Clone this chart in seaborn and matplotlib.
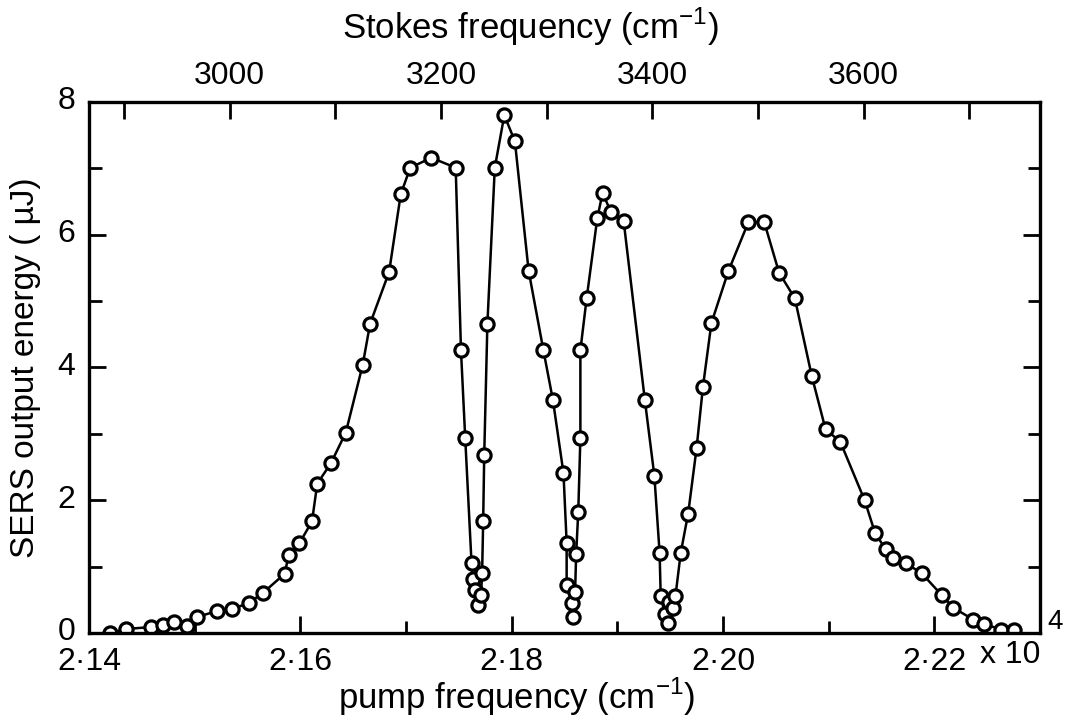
import numpy as np
import pandas as pd
import seaborn as sns
import matplotlib.pyplot as plt
import matplotlib.transforms as mtransforms
from matplotlib.ticker import MultipleLocator, FuncFormatter

# pump frequency (cm^-1) and SERS output energy (uJ)
pump = [21420, 21435, 21459, 21470, 21480, 21493, 21502, 21521, 21535, 21551,
        21565, 21585, 21589, 21599, 21611, 21616, 21629, 21643, 21659, 21666,
        21684, 21695, 21704, 21724, 21747, 21752, 21756, 21762, 21763, 21765,
        21768, 21771, 21772, 21773, 21774, 21777, 21784, 21793, 21803, 21816,
        21830, 21839, 21849, 21852, 21852, 21857, 21858, 21860, 21861, 21863,
        21865, 21865, 21871, 21881, 21886, 21894, 21906, 21926, 21935, 21940,
        21941, 21945, 21948, 21949, 21953, 21955, 21960, 21967, 21975, 21981,
        21989, 22005, 22024, 22039, 22053, 22068, 22084, 22097, 22111, 22134,
        22144, 22154, 22161, 22173, 22188, 22207, 22218, 22237, 22247, 22263,
        22275]
energy = [0.00, 0.06, 0.09, 0.12, 0.16, 0.10, 0.24, 0.33, 0.36, 0.45,
          0.61, 0.89, 1.17, 1.35, 1.68, 2.25, 2.56, 3.02, 4.04, 4.66,
          5.44, 6.61, 7.01, 7.16, 7.01, 4.26, 2.94, 1.05, 0.82, 0.65,
          0.42, 0.57, 0.90, 1.68, 2.68, 4.66, 7.01, 7.80, 7.41, 5.46,
          4.26, 3.51, 2.41, 1.36, 0.72, 0.45, 0.24, 0.62, 1.19, 1.83,
          2.94, 4.26, 5.05, 6.25, 6.63, 6.34, 6.20, 3.51, 2.37, 1.20,
          0.56, 0.28, 0.15, 0.46, 0.38, 0.56, 1.21, 1.80, 2.79, 3.71,
          4.67, 5.45, 6.19, 6.19, 5.43, 5.04, 3.87, 3.07, 2.88, 2.00,
          1.50, 1.26, 1.13, 1.05, 0.90, 0.57, 0.38, 0.20, 0.14, 0.05,
          0.04]

# Stokes frequency = pump - offset
STOKES_OFFSET = 18533
bottom_ticks = [21400, 21600, 21800, 22000, 22200]
top_ticks = [3000, 3200, 3400, 3600]
y_ticks = [0, 2, 4, 6, 8]

df = pd.DataFrame({'pump': pump, 'energy': energy})

sns.set_style('ticks')
plt.rcParams['font.family'] = ['Liberation Sans', 'DejaVu Sans']
plt.rcParams['mathtext.fontset'] = 'custom'
plt.rcParams['mathtext.rm'] = 'Liberation Sans'
plt.rcParams['text.color'] = 'black'
plt.rcParams['axes.labelcolor'] = 'black'

fig = plt.figure(figsize=(10.7, 7.27), dpi=100)
ax = fig.add_axes([0.0832, 0.1293, 0.8888, 0.7304])

sns.lineplot(data=df, x='pump', y='energy', sort=False, estimator=None,
             color='black', lw=1.8, marker='o', markersize=9.5,
             markerfacecolor='white', markeredgecolor='black',
             markeredgewidth=2.3, ax=ax)

ax.set_xlim(21400, 22300)
ax.set_ylim(0, 8)

ax.set_xticks(bottom_ticks)
ax.xaxis.set_minor_locator(MultipleLocator(100))
ax.xaxis.set_major_formatter(FuncFormatter(
    lambda v, p: f'{v / 1e4:.2f}'.replace('.', '\u00b7')))
ax.set_yticks(y_ticks)
ax.yaxis.set_minor_locator(MultipleLocator(1))

ax.tick_params(which='both', direction='in', top=False, right=True,
               width=2, labelsize=23, colors='black')
ax.tick_params(axis='x', which='major', length=12, pad=10)
ax.tick_params(axis='y', which='major', length=12, pad=10)
ax.tick_params(which='minor', length=9)
for s in ax.spines.values():
    s.set_linewidth(2.4)
    s.set_color('black')

# nudge the y tick labels up a little so "0" clears "2·14"
shift = mtransforms.ScaledTranslation(0, 4 / 100, fig.dpi_scale_trans)
for lbl in ax.get_yticklabels():
    lbl.set_transform(lbl.get_transform() + shift)

ax.set_xlabel('pump frequency (cm$^{-1}$)', fontsize=25)
ax.xaxis.set_label_coords(0.45, -0.08)
ax.set_ylabel('SERS output energy ( \u00b5J)', fontsize=24)
ax.yaxis.set_label_coords(-0.05, 0.5)

top = ax.secondary_xaxis('top', functions=(lambda x: x - STOKES_OFFSET,
                                           lambda s: s + STOKES_OFFSET))
top.set_xticks(top_ticks)
top.xaxis.set_minor_locator(MultipleLocator(100))
top.tick_params(which='both', direction='in', width=2, labelsize=23,
                colors='black')
top.tick_params(which='major', length=12, pad=8)
top.tick_params(which='minor', length=12)

fig.text(530 / 1070, 1 - 27 / 727, 'Stokes frequency (cm$^{-1}$)',
         fontsize=25, ha='center', va='center')
fig.text(0.916, 1 - 655 / 727, 'x 10', fontsize=23, va='center', ha='left')
fig.text(0.979, 1 - 622 / 727, '4', fontsize=20, va='center', ha='left')

fig.savefig('out.png', dpi=100)
